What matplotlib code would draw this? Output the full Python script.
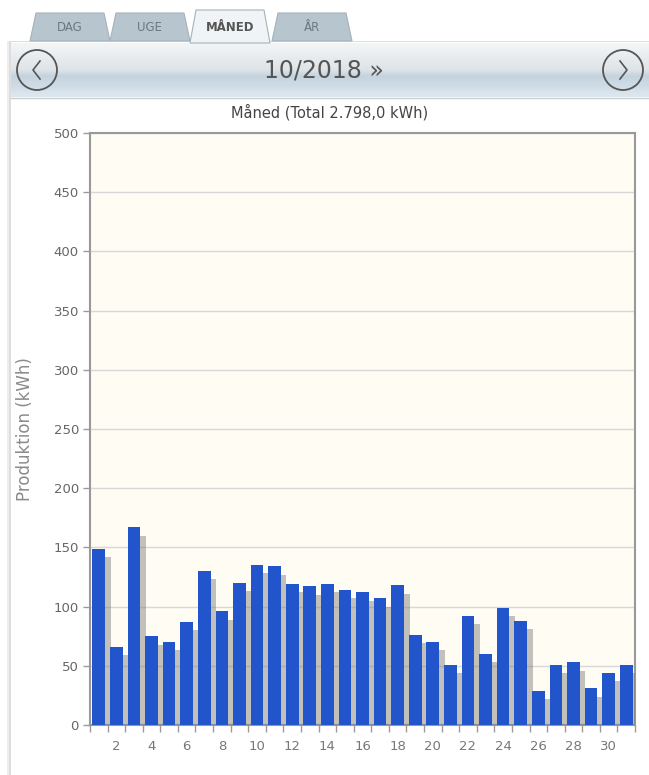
import matplotlib
matplotlib.use("Agg")
import matplotlib.pyplot as plt
import matplotlib.patheffects as pe
from matplotlib.patches import Rectangle, Circle, Polygon
import numpy as np

# ---------- data ----------
days = list(range(1, 32))
production = [149, 66, 167, 75, 70, 87, 130, 96, 120, 135, 134, 119, 117, 119,
              114, 112, 107, 118, 76, 70, 51, 92, 60, 99, 88, 29, 51, 53, 31, 44, 51]
tabs = ["DAG", "UGE", "MÅNED", "ÅR"]
period = "10/2018 »"
title = "Måned (Total 2.798,0 kWh)"
y_ticks = [0, 50, 100, 150, 200, 250, 300, 350, 400, 450, 500]

W, H = 649, 775
fig = plt.figure(figsize=(W / 100, H / 100), dpi=100)
fig.patch.set_facecolor("white")

# background axes in pixel coords (y down) for the page furniture
bg = fig.add_axes([0, 0, 1, 1])
bg.axis("off")

# panel with soft left shadow
bg.add_patch(Rectangle((7, 41), W, H, facecolor="#ededed", edgecolor="none"))
bg.add_patch(Rectangle((9, 41), W, H, facecolor="#dddddd", edgecolor="none"))
bg.add_patch(Rectangle((11, 42), W, H, facecolor="white", edgecolor="none"))

# ---------- tabs ----------
tab_x = [30, 110, 190, 272]
tab_w = 80
for i, name in enumerate(tabs):
    x0 = tab_x[i]
    active = name == "MÅNED"
    top = 10 if active else 13
    bottom = 43 if active else 41
    pts = [(x0, bottom), (x0 + 6, top), (x0 + tab_w - 6, top), (x0 + tab_w, bottom)]
    bg.add_patch(Polygon(pts, closed=True,
                         facecolor="#f1f4f6" if active else "#b7c5ce",
                         edgecolor="#a5b2ba", lw=0.8, zorder=3 if active else 2))
    bg.text(x0 + tab_w / 2, 27.5, name, ha="center", va="center",
            fontsize=8.5,
            fontweight="bold" if active else "normal",
            color="#555555" if active else "#6d7880", zorder=4)

# header gradient (light top, blue-grey band in the lower half)
grad = np.array([[0.95, 0.96, 0.96], [0.93, 0.94, 0.95], [0.91, 0.92, 0.93],
                 [0.89, 0.91, 0.92], [0.87, 0.89, 0.91], [0.77, 0.83, 0.87],
                 [0.79, 0.85, 0.89], [0.82, 0.87, 0.91], [0.86, 0.90, 0.93]])
bg.imshow(grad[:, None, :], aspect="auto", extent=[11, W, 97, 43],
          interpolation="bilinear", zorder=2)
bg.plot([11, W], [97.5, 97.5], color="#c8d0d4", lw=1, zorder=3)
bg.set_xlim(0, W)
bg.set_ylim(H, 0)
bg.text(324, 70, period, ha="center", va="center", fontsize=17, color="#555555", zorder=4)

# nav circles
for cx, d in [(37, -1), (623, 1)]:
    bg.add_patch(Circle((cx, 70), 20, facecolor="none", edgecolor="#555555",
                        lw=1.3, zorder=5))
    bg.plot([cx - 3 * d, cx + 4 * d, cx - 3 * d], [61, 70, 79], color="#555555",
            lw=1.2, zorder=6)

bg.text(330, 112, title, ha="center", va="center", fontsize=10.5, color="#444444")

# ---------- chart ----------
ax = fig.add_axes([90 / W, 1 - 725 / H, (635 - 90) / W, (725 - 133) / H])
ax.set_facecolor("#fffcf4")
bars = ax.bar(days, production, width=0.72, color="#2255cc", zorder=3)
for b in bars:
    b.set_path_effects([pe.SimplePatchShadow(offset=(4, -6), shadow_rgbFace="#777777",
                                             alpha=0.45), pe.Normal()])
ax.set_xlim(0.5, 31.5)
ax.set_ylim(0, 500)
ax.set_yticks(y_ticks)
ax.yaxis.grid(True, color="#d8d8d8", lw=1, zorder=0)
ax.set_xticks([d for d in days if d % 2 == 0])
ax.set_xticks(np.arange(0.5, 31.6, 1), minor=True)
ax.tick_params(axis="x", which="major", length=0, pad=11, labelsize=9.5, labelcolor="#777777")
ax.tick_params(axis="x", which="minor", length=5, color="#999999", width=1)
ax.tick_params(axis="y", length=5, color="#999999", width=1, labelsize=9.5,
               labelcolor="#666666", pad=3)
for s in ax.spines.values():
    s.set_color("#999999")
    s.set_linewidth(1.5)
ax.set_ylabel("Produktion (kWh)", fontsize=12, color="#8a8a8a", labelpad=14)

fig.savefig("out.png", dpi=100)
